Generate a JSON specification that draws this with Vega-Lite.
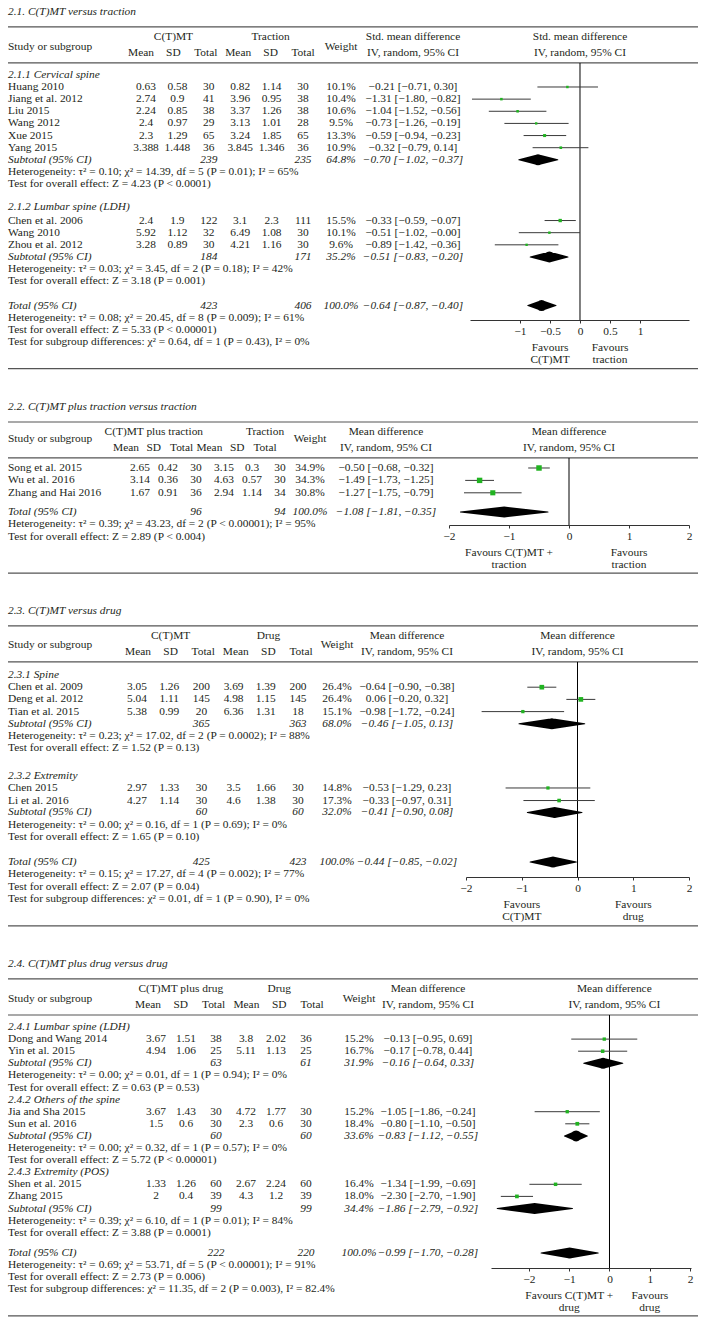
{
"$schema": "https://vega.github.io/schema/vega-lite/v6.json",
"padding": {"left": 7, "top": 0, "right": 6, "bottom": 0},
"spacing": 0,
"bounds": "flush",
"background": "white",
"data": {"values": [
{"p":1,"k":"title","r":-5.2,"label":"2.1. C(T)MT versus traction"},
{"p":1,"k":"rule","r":-3.95},
{"p":1,"k":"head","r":-3.1,"sd1":"C(T)MT","sd2":"Traction","ci":"Std. mean difference","fh":"Std. mean difference"},
{"p":1,"k":"head","r":-2.3,"label":"Study or subgroup","w":"Weight"},
{"p":1,"k":"head","r":-1.8,"m1":"Mean","sd1":"SD","n1":"Total","m2":"Mean","sd2":"SD","n2":"Total","ci":"IV, random, 95% CI","fh":"IV, random, 95% CI"},
{"p":1,"k":"rule","r":-0.98},
{"p":1,"k":"zero","r":-0.98,"r2":20.2,"fx":0},
{"p":1,"k":"group","r":0,"label":"2.1.1 Cervical spine"},
{"p":1,"k":"study","r":1,"label":"Huang 2010","m1":"0.63","sd1":"0.58","n1":"30","m2":"0.82","sd2":"1.14","n2":"30","w":"10.1%","ci":"−0.21 [−0.71, 0.30]","wt":0.101,"est":-0.21,"lo":-0.71,"hi":0.3},
{"p":1,"k":"study","r":2,"label":"Jiang et al. 2012","m1":"2.74","sd1":"0.9","n1":"41","m2":"3.96","sd2":"0.95","n2":"38","w":"10.4%","ci":"−1.31 [−1.80, −0.82]","wt":0.104,"est":-1.31,"lo":-1.8,"hi":-0.82},
{"p":1,"k":"study","r":3,"label":"Liu 2015","m1":"2.24","sd1":"0.85","n1":"38","m2":"3.37","sd2":"1.26","n2":"38","w":"10.6%","ci":"−1.04 [−1.52, −0.56]","wt":0.106,"est":-1.04,"lo":-1.52,"hi":-0.56},
{"p":1,"k":"study","r":4,"label":"Wang 2012","m1":"2.4","sd1":"0.97","n1":"29","m2":"3.13","sd2":"1.01","n2":"28","w":"9.5%","ci":"−0.73 [−1.26, −0.19]","wt":0.095,"est":-0.73,"lo":-1.26,"hi":-0.19},
{"p":1,"k":"study","r":5,"label":"Xue 2015","m1":"2.3","sd1":"1.29","n1":"65","m2":"3.24","sd2":"1.85","n2":"65","w":"13.3%","ci":"−0.59 [−0.94, −0.23]","wt":0.133,"est":-0.59,"lo":-0.94,"hi":-0.23},
{"p":1,"k":"study","r":6,"label":"Yang 2015","m1":"3.388","sd1":"1.448","n1":"36","m2":"3.845","sd2":"1.346","n2":"36","w":"10.9%","ci":"−0.32 [−0.79, 0.14]","wt":0.109,"est":-0.32,"lo":-0.79,"hi":0.14},
{"p":1,"k":"sub","r":7,"label":"Subtotal (95% CI)","n1":"239","n2":"235","w":"64.8%","ci":"−0.70 [−1.02, −0.37]","est":-0.7,"lo":-1.02,"hi":-0.37},
{"p":1,"k":"note","r":8,"label":"Heterogeneity: τ² = 0.10; χ² = 14.39, df = 5 (P = 0.01); I² = 65%"},
{"p":1,"k":"note","r":9,"label":"Test for overall effect: Z = 4.23 (P < 0.0001)"},
{"p":1,"k":"group","r":10.9,"label":"2.1.2 Lumbar spine (LDH)"},
{"p":1,"k":"study","r":12,"label":"Chen et al. 2006","m1":"2.4","sd1":"1.9","n1":"122","m2":"3.1","sd2":"2.3","n2":"111","w":"15.5%","ci":"−0.33 [−0.59, −0.07]","wt":0.155,"est":-0.33,"lo":-0.59,"hi":-0.07},
{"p":1,"k":"study","r":13,"label":"Wang 2010","m1":"5.92","sd1":"1.12","n1":"32","m2":"6.49","sd2":"1.08","n2":"30","w":"10.1%","ci":"−0.51 [−1.02, −0.00]","wt":0.101,"est":-0.51,"lo":-1.02,"hi":0},
{"p":1,"k":"study","r":14,"label":"Zhou et al. 2012","m1":"3.28","sd1":"0.89","n1":"30","m2":"4.21","sd2":"1.16","n2":"30","w":"9.6%","ci":"−0.89 [−1.42, −0.36]","wt":0.096,"est":-0.89,"lo":-1.42,"hi":-0.36},
{"p":1,"k":"sub","r":15,"label":"Subtotal (95% CI)","n1":"184","n2":"171","w":"35.2%","ci":"−0.51 [−0.83, −0.20]","est":-0.51,"lo":-0.83,"hi":-0.2},
{"p":1,"k":"note","r":16,"label":"Heterogeneity: τ² = 0.03; χ² = 3.45, df = 2 (P = 0.18); I² = 42%"},
{"p":1,"k":"note","r":17,"label":"Test for overall effect: Z = 3.18 (P = 0.001)"},
{"p":1,"k":"total","r":19,"label":"Total (95% CI)","n1":"423","n2":"406","w":"100.0%","ci":"−0.64 [−0.87, −0.40]","est":-0.64,"lo":-0.87,"hi":-0.4},
{"p":1,"k":"note","r":20,"label":"Heterogeneity: τ² = 0.08; χ² = 20.45, df = 8 (P = 0.009); I² = 61%"},
{"p":1,"k":"note","r":21,"label":"Test for overall effect: Z = 5.33 (P < 0.00001)"},
{"p":1,"k":"note","r":22,"label":"Test for subgroup differences: χ² = 0.64, df = 1 (P = 0.43), I² = 0%"},
{"p":1,"k":"fav","r":22.5,"fx":-0.5,"label":"Favours\nC(T)MT"},
{"p":1,"k":"fav","r":22.5,"fx":0.5,"label":"Favours\ntraction"},
{"p":1,"k":"rule","r":24.2},

{"p":2,"k":"title","r":-4.92,"label":"2.2. C(T)MT plus traction versus traction"},
{"p":2,"k":"rule","r":-3.71},
{"p":2,"k":"head","r":-2.9,"sd1":"C(T)MT plus traction","n2":"Traction","ci":"Mean difference","fh":"Mean difference"},
{"p":2,"k":"head","r":-2.3,"label":"Study or subgroup","w":"Weight"},
{"p":2,"k":"head","r":-1.65,"m1":"Mean","sd1":"SD","n1":"Total","m2":"Mean","sd2":"SD","n2":"Total","ci":"IV, random, 95% CI","fh":"IV, random, 95% CI"},
{"p":2,"k":"rule","r":-0.81},
{"p":2,"k":"zero","r":-0.81,"r2":4.6,"fx":0},
{"p":2,"k":"study","r":0,"label":"Song et al. 2015","m1":"2.65","sd1":"0.42","n1":"30","m2":"3.15","sd2":"0.3","n2":"30","w":"34.9%","ci":"−0.50 [−0.68, −0.32]","wt":0.349,"est":-0.5,"lo":-0.68,"hi":-0.32},
{"p":2,"k":"study","r":1,"label":"Wu et al. 2016","m1":"3.14","sd1":"0.36","n1":"30","m2":"4.63","sd2":"0.57","n2":"30","w":"34.3%","ci":"−1.49 [−1.73, −1.25]","wt":0.343,"est":-1.49,"lo":-1.73,"hi":-1.25},
{"p":2,"k":"study","r":2,"label":"Zhang and Hai 2016","m1":"1.67","sd1":"0.91","n1":"36","m2":"2.94","sd2":"1.14","n2":"34","w":"30.8%","ci":"−1.27 [−1.75, −0.79]","wt":0.308,"est":-1.27,"lo":-1.75,"hi":-0.79},
{"p":2,"k":"total","r":3.55,"label":"Total (95% CI)","n1":"96","n2":"94","w":"100.0%","ci":"−1.08 [−1.81, −0.35]","est":-1.08,"lo":-1.81,"hi":-0.35},
{"p":2,"k":"note","r":4.52,"label":"Heterogeneity: τ² = 0.39; χ² = 43.23, df = 2 (P < 0.00001); I² = 95%"},
{"p":2,"k":"note","r":5.56,"label":"Test for overall effect: Z = 2.89 (P < 0.004)"},
{"p":2,"k":"fav","r":6.85,"fx":-1,"label":"Favours C(T)MT +\ntraction"},
{"p":2,"k":"fav","r":6.85,"fx":1,"label":"Favours\ntraction"},
{"p":2,"k":"rule","r":8.47},

{"p":3,"k":"title","r":-5.25,"label":"2.3. C(T)MT versus drug"},
{"p":3,"k":"rule","r":-4.02},
{"p":3,"k":"head","r":-3.2,"sd1":"C(T)MT","sd2":"Drug","ci":"Mean difference","fh":"Mean difference"},
{"p":3,"k":"head","r":-2.45,"label":"Study or subgroup","w":"Weight"},
{"p":3,"k":"head","r":-1.89,"m1":"Mean","sd1":"SD","n1":"Total","m2":"Mean","sd2":"SD","n2":"Total","ci":"IV, random, 95% CI","fh":"IV, random, 95% CI"},
{"p":3,"k":"rule","r":-1.07},
{"p":3,"k":"zero","r":-1.07,"r2":16.56,"fx":0},
{"p":3,"k":"group","r":0,"label":"2.3.1 Spine"},
{"p":3,"k":"study","r":1,"label":"Chen et al. 2009","m1":"3.05","sd1":"1.26","n1":"200","m2":"3.69","sd2":"1.39","n2":"200","w":"26.4%","ci":"−0.64 [−0.90, −0.38]","wt":0.264,"est":-0.64,"lo":-0.9,"hi":-0.38},
{"p":3,"k":"study","r":2,"label":"Deng et al. 2012","m1":"5.04","sd1":"1.11","n1":"145","m2":"4.98","sd2":"1.15","n2":"145","w":"26.4%","ci":"0.06 [−0.20, 0.32]","wt":0.264,"est":0.06,"lo":-0.2,"hi":0.32},
{"p":3,"k":"study","r":3,"label":"Tian et al. 2015","m1":"5.38","sd1":"0.99","n1":"20","m2":"6.36","sd2":"1.31","n2":"18","w":"15.1%","ci":"−0.98 [−1.72, −0.24]","wt":0.151,"est":-0.98,"lo":-1.72,"hi":-0.24},
{"p":3,"k":"sub","r":4,"label":"Subtotal (95% CI)","n1":"365","n2":"363","w":"68.0%","ci":"−0.46 [−1.05, 0.13]","est":-0.46,"lo":-1.05,"hi":0.13},
{"p":3,"k":"note","r":5,"label":"Heterogeneity: τ² = 0.23; χ² = 17.02, df = 2 (P = 0.0002); I² = 88%"},
{"p":3,"k":"note","r":6,"label":"Test for overall effect: Z = 1.52 (P = 0.13)"},
{"p":3,"k":"group","r":8.28,"label":"2.3.2 Extremity"},
{"p":3,"k":"study","r":9.26,"label":"Chen 2015","m1":"2.97","sd1":"1.33","n1":"30","m2":"3.5","sd2":"1.66","n2":"30","w":"14.8%","ci":"−0.53 [−1.29, 0.23]","wt":0.148,"est":-0.53,"lo":-1.29,"hi":0.23},
{"p":3,"k":"study","r":10.29,"label":"Li et al. 2016","m1":"4.27","sd1":"1.14","n1":"30","m2":"4.6","sd2":"1.38","n2":"30","w":"17.3%","ci":"−0.33 [−0.97, 0.31]","wt":0.173,"est":-0.33,"lo":-0.97,"hi":0.31},
{"p":3,"k":"sub","r":11.27,"label":"Subtotal (95% CI)","n1":"60","n2":"60","w":"32.0%","ci":"−0.41 [−0.90, 0.08]","est":-0.41,"lo":-0.9,"hi":0.08},
{"p":3,"k":"note","r":12.3,"label":"Heterogeneity: τ² = 0.00; χ² = 0.16, df = 1 (P = 0.69); I² = 0%"},
{"p":3,"k":"note","r":13.28,"label":"Test for overall effect: Z = 1.65 (P = 0.10)"},
{"p":3,"k":"total","r":15.33,"label":"Total (95% CI)","n1":"425","n2":"423","w":"100.0%","ci":"−0.44 [−0.85, −0.02]","est":-0.44,"lo":-0.85,"hi":-0.02},
{"p":3,"k":"note","r":16.31,"label":"Heterogeneity: τ² = 0.15; χ² = 17.27, df = 4 (P = 0.002); I² = 77%"},
{"p":3,"k":"note","r":17.34,"label":"Test for overall effect: Z = 2.07 (P = 0.04)"},
{"p":3,"k":"note","r":18.36,"label":"Test for subgroup differences: χ² = 0.01, df = 1 (P = 0.90), I² = 0%"},
{"p":3,"k":"fav","r":18.85,"fx":-1,"label":"Favours\nC(T)MT"},
{"p":3,"k":"fav","r":18.85,"fx":1,"label":"Favours\ndrug"},
{"p":3,"k":"rule","r":20.57},

{"p":4,"k":"title","r":-5.2,"label":"2.4. C(T)MT plus drug versus drug"},
{"p":4,"k":"rule","r":-3.97},
{"p":4,"k":"head","r":-3.14,"sd1":"C(T)MT plus drug","sd2":"Drug","ci":"Mean difference","fh":"Mean difference"},
{"p":4,"k":"head","r":-2.31,"label":"Study or subgroup","w":"Weight"},
{"p":4,"k":"head","r":-1.82,"m1":"Mean","sd1":"SD","n1":"Total","m2":"Mean","sd2":"SD","n2":"Total","ci":"IV, random, 95% CI","fh":"IV, random, 95% CI"},
{"p":4,"k":"rule","r":-0.99},
{"p":4,"k":"zero","r":-0.99,"r2":19.92,"fx":0},
{"p":4,"k":"group","r":0,"label":"2.4.1 Lumbar spine (LDH)"},
{"p":4,"k":"study","r":1,"label":"Dong and Wang 2014","m1":"3.67","sd1":"1.51","n1":"38","m2":"3.8","sd2":"2.02","n2":"36","w":"15.2%","ci":"−0.13 [−0.95, 0.69]","wt":0.152,"est":-0.13,"lo":-0.95,"hi":0.69},
{"p":4,"k":"study","r":2,"label":"Yin et al. 2015","m1":"4.94","sd1":"1.06","n1":"25","m2":"5.11","sd2":"1.13","n2":"25","w":"16.7%","ci":"−0.17 [−0.78, 0.44]","wt":0.167,"est":-0.17,"lo":-0.78,"hi":0.44},
{"p":4,"k":"sub","r":3,"label":"Subtotal (95% CI)","n1":"63","n2":"61","w":"31.9%","ci":"−0.16 [−0.64, 0.33]","est":-0.16,"lo":-0.64,"hi":0.33},
{"p":4,"k":"note","r":4,"label":"Heterogeneity: τ² = 0.00; χ² = 0.01, df = 1 (P = 0.94); I² = 0%"},
{"p":4,"k":"note","r":5,"label":"Test for overall effect: Z = 0.63 (P = 0.53)"},
{"p":4,"k":"group","r":6,"label":"2.4.2 Others of the spine"},
{"p":4,"k":"study","r":7,"label":"Jia and Sha 2015","m1":"3.67","sd1":"1.43","n1":"30","m2":"4.72","sd2":"1.77","n2":"30","w":"15.2%","ci":"−1.05 [−1.86, −0.24]","wt":0.152,"est":-1.05,"lo":-1.86,"hi":-0.24},
{"p":4,"k":"study","r":8,"label":"Sun et al. 2016","m1":"1.5","sd1":"0.6","n1":"30","m2":"2.3","sd2":"0.6","n2":"30","w":"18.4%","ci":"−0.80 [−1.10, −0.50]","wt":0.184,"est":-0.8,"lo":-1.1,"hi":-0.5},
{"p":4,"k":"sub","r":9,"label":"Subtotal (95% CI)","n1":"60","n2":"60","w":"33.6%","ci":"−0.83 [−1.12, −0.55]","est":-0.83,"lo":-1.12,"hi":-0.55},
{"p":4,"k":"note","r":10,"label":"Heterogeneity: τ² = 0.00; χ² = 0.32, df = 1 (P = 0.57); I² = 0%"},
{"p":4,"k":"note","r":11,"label":"Test for overall effect: Z = 5.72 (P < 0.00001)"},
{"p":4,"k":"group","r":12,"label":"2.4.3 Extremity (POS)"},
{"p":4,"k":"study","r":13,"label":"Shen et al. 2015","m1":"1.33","sd1":"1.26","n1":"60","m2":"2.67","sd2":"2.24","n2":"60","w":"16.4%","ci":"−1.34 [−1.99, −0.69]","wt":0.164,"est":-1.34,"lo":-1.99,"hi":-0.69},
{"p":4,"k":"study","r":14,"label":"Zhang 2015","m1":"2","sd1":"0.4","n1":"39","m2":"4.3","sd2":"1.2","n2":"39","w":"18.0%","ci":"−2.30 [−2.70, −1.90]","wt":0.18,"est":-2.3,"lo":-2.7,"hi":-1.9},
{"p":4,"k":"sub","r":15,"label":"Subtotal (95% CI)","n1":"99","n2":"99","w":"34.4%","ci":"−1.86 [−2.79, −0.92]","est":-1.86,"lo":-2.79,"hi":-0.92},
{"p":4,"k":"note","r":16,"label":"Heterogeneity: τ² = 0.39; χ² = 6.10, df = 1 (P = 0.01); I² = 84%"},
{"p":4,"k":"note","r":17,"label":"Test for overall effect: Z = 3.88 (P = 0.0001)"},
{"p":4,"k":"total","r":18.68,"label":"Total (95% CI)","n1":"222","n2":"220","w":"100.0%","ci":"−0.99 [−1.70, −0.28]","est":-0.99,"lo":-1.7,"hi":-0.28},
{"p":4,"k":"note","r":19.68,"label":"Heterogeneity: τ² = 0.69; χ² = 53.71, df = 5 (P < 0.00001); I² = 91%"},
{"p":4,"k":"note","r":20.68,"label":"Test for overall effect: Z = 2.73 (P = 0.006)"},
{"p":4,"k":"note","r":21.68,"label":"Test for subgroup differences: χ² = 11.35, df = 2 (P = 0.003), I² = 82.4%"},
{"p":4,"k":"fav","r":22.23,"fx":-1,"label":"Favours C(T)MT +\ndrug"},
{"p":4,"k":"fav","r":22.23,"fx":1,"label":"Favours\ndrug"},
{"p":4,"k":"rule","r":23.88}
]},
"vconcat": [
{
"width": 690, "height": 390,
"transform": [{"filter": "datum.p === 1"}],
"encoding": {"y": {"field": "r", "type": "quantitative", "scale": {"domain": [-6.166, 25.959], "reverse": true, "nice": false, "zero": false}, "axis": null}},
"layer": [
{"transform": [{"filter": "datum.k === 'rule'"}], "mark": {"type": "rule", "color": "#555", "strokeWidth": 1.2}, "encoding": {}},
{"transform": [{"filter": "indexof(['head','study','note'], datum.k) >= 0"}, {"fold": ["label"], "as": ["col", "txt"]}, {"filter": "isValid(datum.txt)"}],
 "mark": {"type": "text", "align": "left", "baseline": "middle"},
 "encoding": {"x": {"field": "col", "type": "nominal", "scale": {"type": "point", "domain": ["label"], "range": [0, 0], "padding": 0}, "axis": null}, "text": {"field": "txt"}}},
{"transform": [{"filter": "indexof(['title','group','sub','total'], datum.k) >= 0"}, {"fold": ["label"], "as": ["col", "txt"]}, {"filter": "isValid(datum.txt)"}],
 "mark": {"type": "text", "align": "left", "baseline": "middle", "fontStyle": "italic"},
 "encoding": {"x": {"field": "col", "type": "nominal", "scale": {"type": "point", "domain": ["label"], "range": [0, 0], "padding": 0}, "axis": null}, "text": {"field": "txt"}}},
{"transform": [{"filter": "datum.k === 'head'"}, {"fold": ["m1","sd1","n1","m2","sd2","n2"], "as": ["col", "txt"]}, {"filter": "isValid(datum.txt)"}],
 "mark": {"type": "text", "align": "center", "baseline": "middle"},
 "encoding": {"x": {"field": "col", "type": "nominal", "scale": {"type": "point", "domain": ["m1","sd1","n1","m2","sd2","n2"], "range": [133, 295], "padding": 0}, "axis": null}, "text": {"field": "txt"}}},
{"transform": [{"filter": "datum.k === 'study'"}, {"fold": ["m1","sd1","n1","m2","sd2","n2"], "as": ["col", "txt"]}, {"filter": "isValid(datum.txt)"}],
 "mark": {"type": "text", "align": "center", "baseline": "middle"},
 "encoding": {"x": {"field": "col", "type": "nominal", "scale": {"type": "point", "domain": ["m1","sd1","n1","m2","sd2","n2"], "range": [138, 295], "padding": 0}, "axis": null}, "text": {"field": "txt"}}},
{"transform": [{"filter": "indexof(['sub','total'], datum.k) >= 0"}, {"fold": ["m1","sd1","n1","m2","sd2","n2"], "as": ["col", "txt"]}, {"filter": "isValid(datum.txt)"}],
 "mark": {"type": "text", "align": "center", "baseline": "middle", "fontStyle": "italic"},
 "encoding": {"x": {"field": "col", "type": "nominal", "scale": {"type": "point", "domain": ["m1","sd1","n1","m2","sd2","n2"], "range": [138, 295], "padding": 0}, "axis": null}, "text": {"field": "txt"}}},
{"transform": [{"filter": "indexof(['head','study'], datum.k) >= 0"}, {"fold": ["w","ci"], "as": ["col", "txt"]}, {"filter": "isValid(datum.txt)"}],
 "mark": {"type": "text", "align": "center", "baseline": "middle"},
 "encoding": {"x": {"field": "col", "type": "nominal", "scale": {"type": "point", "domain": ["w","ci"], "range": [333, 405], "padding": 0}, "axis": null}, "text": {"field": "txt"}}},
{"transform": [{"filter": "indexof(['sub','total'], datum.k) >= 0"}, {"fold": ["w","ci"], "as": ["col", "txt"]}, {"filter": "isValid(datum.txt)"}],
 "mark": {"type": "text", "align": "center", "baseline": "middle", "fontStyle": "italic"},
 "encoding": {"x": {"field": "col", "type": "nominal", "scale": {"type": "point", "domain": ["w","ci"], "range": [333, 405], "padding": 0}, "axis": null}, "text": {"field": "txt"}}},
{"layer": [
 {"transform": [{"filter": "datum.k === 'zero'"}], "mark": {"type": "rule", "color": "#000", "strokeWidth": 1},
  "encoding": {"x": {"field": "fx", "type": "quantitative", "scale": {"domain": [-1.8333, 1.8167], "range": [462, 681], "nice": false, "zero": false}, "axis": {"values": [-1, -0.5, 0, 0.5, 1], "format": "~g", "title": null, "offset": -70}}, "y2": {"field": "r2"}}},
 {"transform": [{"filter": "datum.k === 'study'"}], "mark": {"type": "rule", "color": "#3a3a3a", "strokeWidth": 1},
  "encoding": {"x": {"field": "lo", "type": "quantitative", "scale": {"domain": [-1.8333, 1.8167], "range": [462, 681], "nice": false, "zero": false}, "axis": {"values": [-1, -0.5, 0, 0.5, 1], "format": "~g", "title": null, "offset": -70}}, "x2": {"field": "hi"}}},
 {"transform": [{"filter": "datum.k === 'study'"}], "mark": {"type": "square", "filled": true, "color": "#21b321", "opacity": 1},
  "encoding": {"x": {"field": "est", "type": "quantitative", "scale": {"domain": [-1.8333, 1.8167], "range": [462, 681], "nice": false, "zero": false}, "axis": {"values": [-1, -0.5, 0, 0.5, 1], "format": "~g", "title": null, "offset": -70}},
   "size": {"field": "wt", "type": "quantitative", "scale": {"domain": [0.1, 0.35], "range": [6, 30], "zero": false}, "legend": null}}},
 {"transform": [{"filter": "indexof(['sub','total'], datum.k) >= 0"}, {"fold": ["lo","est","hi"], "as": ["vk","vx"]}], "mark": {"type": "trail", "color": "#000"},
  "encoding": {"x": {"field": "vx", "type": "quantitative", "scale": {"domain": [-1.8333, 1.8167], "range": [462, 681], "nice": false, "zero": false}, "axis": {"values": [-1, -0.5, 0, 0.5, 1], "format": "~g", "title": null, "offset": -70}},
   "detail": {"field": "r", "type": "nominal"}, "size": {"condition": {"test": "datum.vk === 'est'", "value": 11}, "value": 0}}},
 {"transform": [{"filter": "datum.k === 'head' && isValid(datum.fh)"}], "mark": {"type": "text", "align": "center", "baseline": "middle"},
  "encoding": {"x": {"datum": 0, "type": "quantitative", "scale": {"domain": [-1.8333, 1.8167], "range": [462, 681], "nice": false, "zero": false}, "axis": {"values": [-1, -0.5, 0, 0.5, 1], "format": "~g", "title": null, "offset": -70}}, "text": {"field": "fh"}}},
 {"transform": [{"filter": "datum.k === 'fav'"}], "mark": {"type": "text", "align": "center", "baseline": "middle", "lineBreak": "\n", "lineHeight": 12},
  "encoding": {"x": {"field": "fx", "type": "quantitative", "scale": {"domain": [-1.8333, 1.8167], "range": [462, 681], "nice": false, "zero": false}, "axis": {"values": [-1, -0.5, 0, 0.5, 1], "format": "~g", "title": null, "offset": -70}}, "text": {"field": "label"}}}
]}
],
"resolve": {"scale": {"x": "independent"}, "axis": {"x": "independent"}}
},
{
"width": 690, "height": 208,
"transform": [{"filter": "datum.p === 2"}],
"encoding": {"y": {"field": "r", "type": "quantitative", "scale": {"domain": [-6.290, 10.484], "reverse": true, "nice": false, "zero": false}, "axis": null}},
"layer": [
{"transform": [{"filter": "datum.k === 'rule'"}], "mark": {"type": "rule", "color": "#555", "strokeWidth": 1.2}, "encoding": {}},
{"transform": [{"filter": "indexof(['head','study','note'], datum.k) >= 0"}, {"fold": ["label"], "as": ["col", "txt"]}, {"filter": "isValid(datum.txt)"}],
 "mark": {"type": "text", "align": "left", "baseline": "middle"},
 "encoding": {"x": {"field": "col", "type": "nominal", "scale": {"type": "point", "domain": ["label"], "range": [0, 0], "padding": 0}, "axis": null}, "text": {"field": "txt"}}},
{"transform": [{"filter": "indexof(['title','group','sub','total'], datum.k) >= 0"}, {"fold": ["label"], "as": ["col", "txt"]}, {"filter": "isValid(datum.txt)"}],
 "mark": {"type": "text", "align": "left", "baseline": "middle", "fontStyle": "italic"},
 "encoding": {"x": {"field": "col", "type": "nominal", "scale": {"type": "point", "domain": ["label"], "range": [0, 0], "padding": 0}, "axis": null}, "text": {"field": "txt"}}},
{"transform": [{"filter": "datum.k === 'head'"}, {"fold": ["m1","sd1","n1","m2","sd2","n2"], "as": ["col", "txt"]}, {"filter": "isValid(datum.txt)"}],
 "mark": {"type": "text", "align": "center", "baseline": "middle"},
 "encoding": {"x": {"field": "col", "type": "nominal", "scale": {"type": "point", "domain": ["m1","sd1","n1","m2","sd2","n2"], "range": [118, 257], "padding": 0}, "axis": null}, "text": {"field": "txt"}}},
{"transform": [{"filter": "datum.k === 'study'"}, {"fold": ["m1","sd1","n1","m2","sd2","n2"], "as": ["col", "txt"]}, {"filter": "isValid(datum.txt)"}],
 "mark": {"type": "text", "align": "center", "baseline": "middle"},
 "encoding": {"x": {"field": "col", "type": "nominal", "scale": {"type": "point", "domain": ["m1","sd1","n1","m2","sd2","n2"], "range": [132, 272], "padding": 0}, "axis": null}, "text": {"field": "txt"}}},
{"transform": [{"filter": "indexof(['sub','total'], datum.k) >= 0"}, {"fold": ["m1","sd1","n1","m2","sd2","n2"], "as": ["col", "txt"]}, {"filter": "isValid(datum.txt)"}],
 "mark": {"type": "text", "align": "center", "baseline": "middle", "fontStyle": "italic"},
 "encoding": {"x": {"field": "col", "type": "nominal", "scale": {"type": "point", "domain": ["m1","sd1","n1","m2","sd2","n2"], "range": [132, 272], "padding": 0}, "axis": null}, "text": {"field": "txt"}}},
{"transform": [{"filter": "indexof(['head','study'], datum.k) >= 0"}, {"fold": ["w","ci"], "as": ["col", "txt"]}, {"filter": "isValid(datum.txt)"}],
 "mark": {"type": "text", "align": "center", "baseline": "middle"},
 "encoding": {"x": {"field": "col", "type": "nominal", "scale": {"type": "point", "domain": ["w","ci"], "range": [302, 378], "padding": 0}, "axis": null}, "text": {"field": "txt"}}},
{"transform": [{"filter": "indexof(['sub','total'], datum.k) >= 0"}, {"fold": ["w","ci"], "as": ["col", "txt"]}, {"filter": "isValid(datum.txt)"}],
 "mark": {"type": "text", "align": "center", "baseline": "middle", "fontStyle": "italic"},
 "encoding": {"x": {"field": "col", "type": "nominal", "scale": {"type": "point", "domain": ["w","ci"], "range": [302, 378], "padding": 0}, "axis": null}, "text": {"field": "txt"}}},
{"layer": [
 {"transform": [{"filter": "datum.k === 'zero'"}], "mark": {"type": "rule", "color": "#000", "strokeWidth": 1},
  "encoding": {"x": {"field": "fx", "type": "quantitative", "scale": {"domain": [-2, 2], "range": [441, 681], "nice": false, "zero": false}, "axis": {"values": [-2, -1, 0, 1, 2], "format": "~g", "title": null, "offset": -73}}, "y2": {"field": "r2"}}},
 {"transform": [{"filter": "datum.k === 'study'"}], "mark": {"type": "rule", "color": "#3a3a3a", "strokeWidth": 1},
  "encoding": {"x": {"field": "lo", "type": "quantitative", "scale": {"domain": [-2, 2], "range": [441, 681], "nice": false, "zero": false}, "axis": {"values": [-2, -1, 0, 1, 2], "format": "~g", "title": null, "offset": -73}}, "x2": {"field": "hi"}}},
 {"transform": [{"filter": "datum.k === 'study'"}], "mark": {"type": "square", "filled": true, "color": "#21b321", "opacity": 1},
  "encoding": {"x": {"field": "est", "type": "quantitative", "scale": {"domain": [-2, 2], "range": [441, 681], "nice": false, "zero": false}, "axis": {"values": [-2, -1, 0, 1, 2], "format": "~g", "title": null, "offset": -73}},
   "size": {"field": "wt", "type": "quantitative", "scale": {"domain": [0.1, 0.35], "range": [6, 30], "zero": false}, "legend": null}}},
 {"transform": [{"filter": "indexof(['sub','total'], datum.k) >= 0"}, {"fold": ["lo","est","hi"], "as": ["vk","vx"]}], "mark": {"type": "trail", "color": "#000"},
  "encoding": {"x": {"field": "vx", "type": "quantitative", "scale": {"domain": [-2, 2], "range": [441, 681], "nice": false, "zero": false}, "axis": {"values": [-2, -1, 0, 1, 2], "format": "~g", "title": null, "offset": -73}},
   "detail": {"field": "r", "type": "nominal"}, "size": {"condition": {"test": "datum.vk === 'est'", "value": 11}, "value": 0}}},
 {"transform": [{"filter": "datum.k === 'head' && isValid(datum.fh)"}], "mark": {"type": "text", "align": "center", "baseline": "middle"},
  "encoding": {"x": {"datum": 0, "type": "quantitative", "scale": {"domain": [-2, 2], "range": [441, 681], "nice": false, "zero": false}, "axis": {"values": [-2, -1, 0, 1, 2], "format": "~g", "title": null, "offset": -73}}, "text": {"field": "fh"}}},
 {"transform": [{"filter": "datum.k === 'fav'"}], "mark": {"type": "text", "align": "center", "baseline": "middle", "lineBreak": "\n", "lineHeight": 12},
  "encoding": {"x": {"field": "fx", "type": "quantitative", "scale": {"domain": [-2, 2], "range": [441, 681], "nice": false, "zero": false}, "axis": {"values": [-2, -1, 0, 1, 2], "format": "~g", "title": null, "offset": -73}}, "text": {"field": "label"}}}
]}
],
"resolve": {"scale": {"x": "independent"}, "axis": {"x": "independent"}}
},
{
"width": 690, "height": 347,
"transform": [{"filter": "datum.p === 3"}],
"encoding": {"y": {"field": "r", "type": "quantitative", "scale": {"domain": [-6.311, 22.131], "reverse": true, "nice": false, "zero": false}, "axis": null}},
"layer": [
{"transform": [{"filter": "datum.k === 'rule'"}], "mark": {"type": "rule", "color": "#555", "strokeWidth": 1.2}, "encoding": {}},
{"transform": [{"filter": "indexof(['head','study','note'], datum.k) >= 0"}, {"fold": ["label"], "as": ["col", "txt"]}, {"filter": "isValid(datum.txt)"}],
 "mark": {"type": "text", "align": "left", "baseline": "middle"},
 "encoding": {"x": {"field": "col", "type": "nominal", "scale": {"type": "point", "domain": ["label"], "range": [0, 0], "padding": 0}, "axis": null}, "text": {"field": "txt"}}},
{"transform": [{"filter": "indexof(['title','group','sub','total'], datum.k) >= 0"}, {"fold": ["label"], "as": ["col", "txt"]}, {"filter": "isValid(datum.txt)"}],
 "mark": {"type": "text", "align": "left", "baseline": "middle", "fontStyle": "italic"},
 "encoding": {"x": {"field": "col", "type": "nominal", "scale": {"type": "point", "domain": ["label"], "range": [0, 0], "padding": 0}, "axis": null}, "text": {"field": "txt"}}},
{"transform": [{"filter": "datum.k === 'head'"}, {"fold": ["m1","sd1","n1","m2","sd2","n2"], "as": ["col", "txt"]}, {"filter": "isValid(datum.txt)"}],
 "mark": {"type": "text", "align": "center", "baseline": "middle"},
 "encoding": {"x": {"field": "col", "type": "nominal", "scale": {"type": "point", "domain": ["m1","sd1","n1","m2","sd2","n2"], "range": [130, 293], "padding": 0}, "axis": null}, "text": {"field": "txt"}}},
{"transform": [{"filter": "datum.k === 'study'"}, {"fold": ["m1","sd1","n1","m2","sd2","n2"], "as": ["col", "txt"]}, {"filter": "isValid(datum.txt)"}],
 "mark": {"type": "text", "align": "center", "baseline": "middle"},
 "encoding": {"x": {"field": "col", "type": "nominal", "scale": {"type": "point", "domain": ["m1","sd1","n1","m2","sd2","n2"], "range": [129, 290], "padding": 0}, "axis": null}, "text": {"field": "txt"}}},
{"transform": [{"filter": "indexof(['sub','total'], datum.k) >= 0"}, {"fold": ["m1","sd1","n1","m2","sd2","n2"], "as": ["col", "txt"]}, {"filter": "isValid(datum.txt)"}],
 "mark": {"type": "text", "align": "center", "baseline": "middle", "fontStyle": "italic"},
 "encoding": {"x": {"field": "col", "type": "nominal", "scale": {"type": "point", "domain": ["m1","sd1","n1","m2","sd2","n2"], "range": [129, 290], "padding": 0}, "axis": null}, "text": {"field": "txt"}}},
{"transform": [{"filter": "indexof(['head','study'], datum.k) >= 0"}, {"fold": ["w","ci"], "as": ["col", "txt"]}, {"filter": "isValid(datum.txt)"}],
 "mark": {"type": "text", "align": "center", "baseline": "middle"},
 "encoding": {"x": {"field": "col", "type": "nominal", "scale": {"type": "point", "domain": ["w","ci"], "range": [329, 399], "padding": 0}, "axis": null}, "text": {"field": "txt"}}},
{"transform": [{"filter": "indexof(['sub','total'], datum.k) >= 0"}, {"fold": ["w","ci"], "as": ["col", "txt"]}, {"filter": "isValid(datum.txt)"}],
 "mark": {"type": "text", "align": "center", "baseline": "middle", "fontStyle": "italic"},
 "encoding": {"x": {"field": "col", "type": "nominal", "scale": {"type": "point", "domain": ["w","ci"], "range": [329, 399], "padding": 0}, "axis": null}, "text": {"field": "txt"}}},
{"layer": [
 {"transform": [{"filter": "datum.k === 'zero'"}], "mark": {"type": "rule", "color": "#000", "strokeWidth": 1},
  "encoding": {"x": {"field": "fx", "type": "quantitative", "scale": {"domain": [-2, 2], "range": [458, 681], "nice": false, "zero": false}, "axis": {"values": [-2, -1, 0, 1, 2], "format": "~g", "title": null, "offset": -68}}, "y2": {"field": "r2"}}},
 {"transform": [{"filter": "datum.k === 'study'"}], "mark": {"type": "rule", "color": "#3a3a3a", "strokeWidth": 1},
  "encoding": {"x": {"field": "lo", "type": "quantitative", "scale": {"domain": [-2, 2], "range": [458, 681], "nice": false, "zero": false}, "axis": {"values": [-2, -1, 0, 1, 2], "format": "~g", "title": null, "offset": -68}}, "x2": {"field": "hi"}}},
 {"transform": [{"filter": "datum.k === 'study'"}], "mark": {"type": "square", "filled": true, "color": "#21b321", "opacity": 1},
  "encoding": {"x": {"field": "est", "type": "quantitative", "scale": {"domain": [-2, 2], "range": [458, 681], "nice": false, "zero": false}, "axis": {"values": [-2, -1, 0, 1, 2], "format": "~g", "title": null, "offset": -68}},
   "size": {"field": "wt", "type": "quantitative", "scale": {"domain": [0.1, 0.35], "range": [6, 30], "zero": false}, "legend": null}}},
 {"transform": [{"filter": "indexof(['sub','total'], datum.k) >= 0"}, {"fold": ["lo","est","hi"], "as": ["vk","vx"]}], "mark": {"type": "trail", "color": "#000"},
  "encoding": {"x": {"field": "vx", "type": "quantitative", "scale": {"domain": [-2, 2], "range": [458, 681], "nice": false, "zero": false}, "axis": {"values": [-2, -1, 0, 1, 2], "format": "~g", "title": null, "offset": -68}},
   "detail": {"field": "r", "type": "nominal"}, "size": {"condition": {"test": "datum.vk === 'est'", "value": 11}, "value": 0}}},
 {"transform": [{"filter": "datum.k === 'head' && isValid(datum.fh)"}], "mark": {"type": "text", "align": "center", "baseline": "middle"},
  "encoding": {"x": {"datum": 0, "type": "quantitative", "scale": {"domain": [-2, 2], "range": [458, 681], "nice": false, "zero": false}, "axis": {"values": [-2, -1, 0, 1, 2], "format": "~g", "title": null, "offset": -68}}, "text": {"field": "fh"}}},
 {"transform": [{"filter": "datum.k === 'fav'"}], "mark": {"type": "text", "align": "center", "baseline": "middle", "lineBreak": "\n", "lineHeight": 12},
  "encoding": {"x": {"field": "fx", "type": "quantitative", "scale": {"domain": [-2, 2], "range": [458, 681], "nice": false, "zero": false}, "axis": {"values": [-2, -1, 0, 1, 2], "format": "~g", "title": null, "offset": -68}}, "text": {"field": "label"}}}
]}
],
"resolve": {"scale": {"x": "independent"}, "axis": {"x": "independent"}}
},
{
"width": 690, "height": 399,
"transform": [{"filter": "datum.p === 4"}],
"encoding": {"y": {"field": "r", "type": "quantitative", "scale": {"domain": [-6.777, 26.198], "reverse": true, "nice": false, "zero": false}, "axis": null}},
"layer": [
{"transform": [{"filter": "datum.k === 'rule'"}], "mark": {"type": "rule", "color": "#555", "strokeWidth": 1.2}, "encoding": {}},
{"transform": [{"filter": "indexof(['head','study','note'], datum.k) >= 0"}, {"fold": ["label"], "as": ["col", "txt"]}, {"filter": "isValid(datum.txt)"}],
 "mark": {"type": "text", "align": "left", "baseline": "middle"},
 "encoding": {"x": {"field": "col", "type": "nominal", "scale": {"type": "point", "domain": ["label"], "range": [0, 0], "padding": 0}, "axis": null}, "text": {"field": "txt"}}},
{"transform": [{"filter": "indexof(['title','group','sub','total'], datum.k) >= 0"}, {"fold": ["label"], "as": ["col", "txt"]}, {"filter": "isValid(datum.txt)"}],
 "mark": {"type": "text", "align": "left", "baseline": "middle", "fontStyle": "italic"},
 "encoding": {"x": {"field": "col", "type": "nominal", "scale": {"type": "point", "domain": ["label"], "range": [0, 0], "padding": 0}, "axis": null}, "text": {"field": "txt"}}},
{"transform": [{"filter": "datum.k === 'head'"}, {"fold": ["m1","sd1","n1","m2","sd2","n2"], "as": ["col", "txt"]}, {"filter": "isValid(datum.txt)"}],
 "mark": {"type": "text", "align": "center", "baseline": "middle"},
 "encoding": {"x": {"field": "col", "type": "nominal", "scale": {"type": "point", "domain": ["m1","sd1","n1","m2","sd2","n2"], "range": [140, 304], "padding": 0}, "axis": null}, "text": {"field": "txt"}}},
{"transform": [{"filter": "datum.k === 'study'"}, {"fold": ["m1","sd1","n1","m2","sd2","n2"], "as": ["col", "txt"]}, {"filter": "isValid(datum.txt)"}],
 "mark": {"type": "text", "align": "center", "baseline": "middle"},
 "encoding": {"x": {"field": "col", "type": "nominal", "scale": {"type": "point", "domain": ["m1","sd1","n1","m2","sd2","n2"], "range": [148, 298], "padding": 0}, "axis": null}, "text": {"field": "txt"}}},
{"transform": [{"filter": "indexof(['sub','total'], datum.k) >= 0"}, {"fold": ["m1","sd1","n1","m2","sd2","n2"], "as": ["col", "txt"]}, {"filter": "isValid(datum.txt)"}],
 "mark": {"type": "text", "align": "center", "baseline": "middle", "fontStyle": "italic"},
 "encoding": {"x": {"field": "col", "type": "nominal", "scale": {"type": "point", "domain": ["m1","sd1","n1","m2","sd2","n2"], "range": [148, 298], "padding": 0}, "axis": null}, "text": {"field": "txt"}}},
{"transform": [{"filter": "indexof(['head','study'], datum.k) >= 0"}, {"fold": ["w","ci"], "as": ["col", "txt"]}, {"filter": "isValid(datum.txt)"}],
 "mark": {"type": "text", "align": "center", "baseline": "middle"},
 "encoding": {"x": {"field": "col", "type": "nominal", "scale": {"type": "point", "domain": ["w","ci"], "range": [351, 420], "padding": 0}, "axis": null}, "text": {"field": "txt"}}},
{"transform": [{"filter": "indexof(['sub','total'], datum.k) >= 0"}, {"fold": ["w","ci"], "as": ["col", "txt"]}, {"filter": "isValid(datum.txt)"}],
 "mark": {"type": "text", "align": "center", "baseline": "middle", "fontStyle": "italic"},
 "encoding": {"x": {"field": "col", "type": "nominal", "scale": {"type": "point", "domain": ["w","ci"], "range": [351, 420], "padding": 0}, "axis": null}, "text": {"field": "txt"}}},
{"layer": [
 {"transform": [{"filter": "datum.k === 'zero'"}], "mark": {"type": "rule", "color": "#000", "strokeWidth": 1},
  "encoding": {"x": {"field": "fx", "type": "quantitative", "scale": {"domain": [-2.944, 2.025], "range": [483, 683], "nice": false, "zero": false}, "axis": {"values": [-2, -1, 0, 1, 2], "format": "~g", "title": null, "offset": -76}}, "y2": {"field": "r2"}}},
 {"transform": [{"filter": "datum.k === 'study'"}], "mark": {"type": "rule", "color": "#3a3a3a", "strokeWidth": 1},
  "encoding": {"x": {"field": "lo", "type": "quantitative", "scale": {"domain": [-2.944, 2.025], "range": [483, 683], "nice": false, "zero": false}, "axis": {"values": [-2, -1, 0, 1, 2], "format": "~g", "title": null, "offset": -76}}, "x2": {"field": "hi"}}},
 {"transform": [{"filter": "datum.k === 'study'"}], "mark": {"type": "square", "filled": true, "color": "#21b321", "opacity": 1},
  "encoding": {"x": {"field": "est", "type": "quantitative", "scale": {"domain": [-2.944, 2.025], "range": [483, 683], "nice": false, "zero": false}, "axis": {"values": [-2, -1, 0, 1, 2], "format": "~g", "title": null, "offset": -76}},
   "size": {"field": "wt", "type": "quantitative", "scale": {"domain": [0.1, 0.35], "range": [6, 30], "zero": false}, "legend": null}}},
 {"transform": [{"filter": "indexof(['sub','total'], datum.k) >= 0"}, {"fold": ["lo","est","hi"], "as": ["vk","vx"]}], "mark": {"type": "trail", "color": "#000"},
  "encoding": {"x": {"field": "vx", "type": "quantitative", "scale": {"domain": [-2.944, 2.025], "range": [483, 683], "nice": false, "zero": false}, "axis": {"values": [-2, -1, 0, 1, 2], "format": "~g", "title": null, "offset": -76}},
   "detail": {"field": "r", "type": "nominal"}, "size": {"condition": {"test": "datum.vk === 'est'", "value": 11}, "value": 0}}},
 {"transform": [{"filter": "datum.k === 'head' && isValid(datum.fh)"}], "mark": {"type": "text", "align": "center", "baseline": "middle"},
  "encoding": {"x": {"datum": 0.12, "type": "quantitative", "scale": {"domain": [-2.944, 2.025], "range": [483, 683], "nice": false, "zero": false}, "axis": {"values": [-2, -1, 0, 1, 2], "format": "~g", "title": null, "offset": -76}}, "text": {"field": "fh"}}},
 {"transform": [{"filter": "datum.k === 'fav'"}], "mark": {"type": "text", "align": "center", "baseline": "middle", "lineBreak": "\n", "lineHeight": 12},
  "encoding": {"x": {"field": "fx", "type": "quantitative", "scale": {"domain": [-2.944, 2.025], "range": [483, 683], "nice": false, "zero": false}, "axis": {"values": [-2, -1, 0, 1, 2], "format": "~g", "title": null, "offset": -76}}, "text": {"field": "label"}}}
]}
],
"resolve": {"scale": {"x": "independent"}, "axis": {"x": "independent"}}
}
],
"config": {
 "view": {"stroke": null},
 "text": {"font": "Liberation Serif", "fontSize": 11.4, "color": "#231f20"},
 "axis": {"labelFont": "Liberation Serif", "labelFontSize": 11.4, "labelColor": "#231f20", "domainColor": "#333", "tickColor": "#333", "tickSize": 3, "labelPadding": 2, "labelFlush": false, "grid": false}
}
}
